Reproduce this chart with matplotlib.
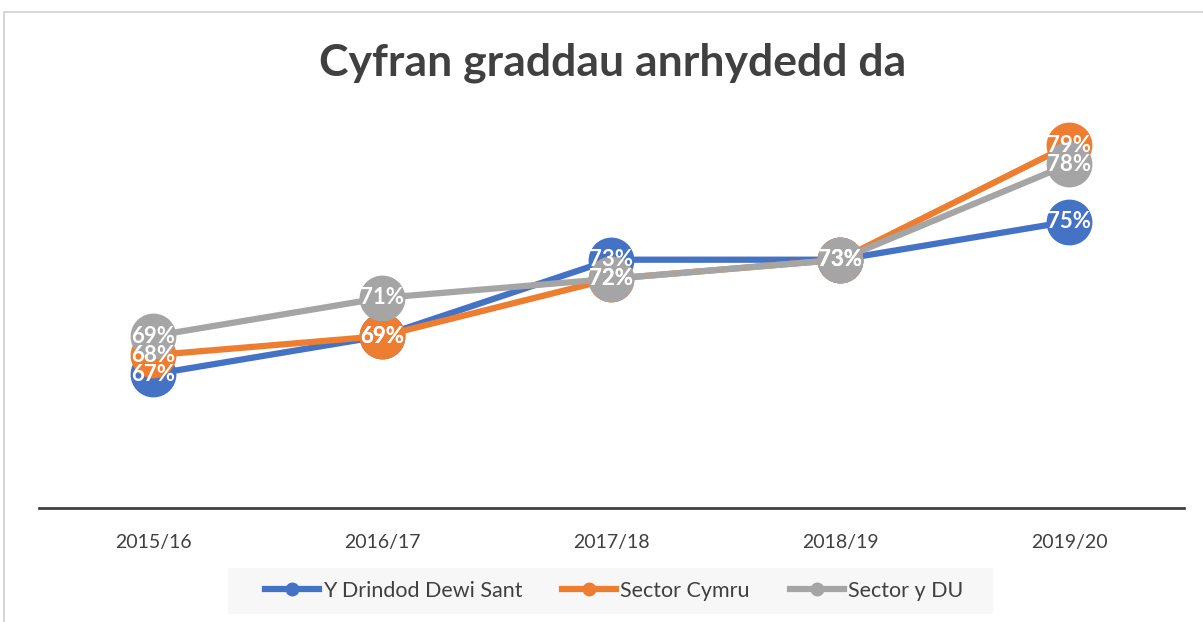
import matplotlib
matplotlib.use("Agg")
import matplotlib.pyplot as plt
from matplotlib.patches import Rectangle
from matplotlib.lines import Line2D

years = ["2015/16", "2016/17", "2017/18", "2018/19", "2019/20"]
drindod = [67, 69, 73, 73, 75]
cymru = [68, 69, 72, 73, 79]
du = [69, 71, 72, 73, 78]
series_names = ["Y Drindod Dewi Sant", "Sector Cymru", "Sector y DU"]
colors = ["#4472C4", "#ED7D31", "#A5A5A5"]

W, H = 1203, 622
fig = plt.figure(figsize=(W / 100, H / 100), dpi=100)
fig.patch.set_facecolor("white")

# outer chart border
fig.add_artist(Rectangle((4 / W, -0.01), 1.05, 1 - 12 / H + 0.01, transform=fig.transFigure,
                         fill=False, edgecolor="#D0D0D0", linewidth=1.2))
# legend background
fig.add_artist(Rectangle((228 / W, 1 - 614 / H), (993 - 228) / W, 46 / H, transform=fig.transFigure,
                         facecolor="#F7F7F7", edgecolor="none", zorder=0))

ax_bottom = 1 - 508 / H
ax_top = 1 - 100 / H
ax = fig.add_axes([38.5 / W, ax_bottom, (1183.5 - 38.5) / W, ax_top - ax_bottom])
ax.set_xlim(-0.5, 4.5)
ax.set_ylim(60, 60 + 408 / 19.1)
ax.set_facecolor("none")
for s in ["top", "right", "left"]:
    ax.spines[s].set_visible(False)
ax.spines["bottom"].set_color("#404040")
ax.spines["bottom"].set_linewidth(2.0)
ax.set_yticks([])
x = list(range(len(years)))
ax.set_xticks(x)
ax.set_xticklabels(years, fontsize=14, color="#404040", family="Lato")
ax.tick_params(axis="x", length=0, pad=19)

data = [drindod, cymru, du]
for vals, c, name, z in zip(data, colors, series_names, [2, 3, 4]):
    ax.plot(x, vals, color=c, linewidth=4.5, marker="o", markersize=32,
            markeredgecolor=c, zorder=z, label=name, clip_on=False)
for vals in data:
    for xi, v in zip(x, vals):
        ax.text(xi, v, f"{v}%", ha="center", va="center", color="white",
                fontsize=16, fontweight="bold", family="Lato", zorder=10)

fig.text(0.509, 1 - 63 / H, "Cyfran graddau anrhydedd da", ha="center", va="center",
         fontsize=32, fontweight="bold", color="#404040", family="Lato")

# legend
handles = [Line2D([0], [0], color=c, linewidth=4.5, marker="o", markersize=9) for c in colors]
leg = fig.legend(handles, series_names, loc="center", bbox_to_anchor=(614 / W, 1 - 591 / H),
                 ncol=3, frameon=False, handlelength=2.5, handletextpad=0.2,
                 columnspacing=1.85, prop={"family": "Lato", "size": 15.5}, borderpad=0.3)
for t in leg.get_texts():
    t.set_color("#404040")

fig.savefig("out.png", dpi=100)
